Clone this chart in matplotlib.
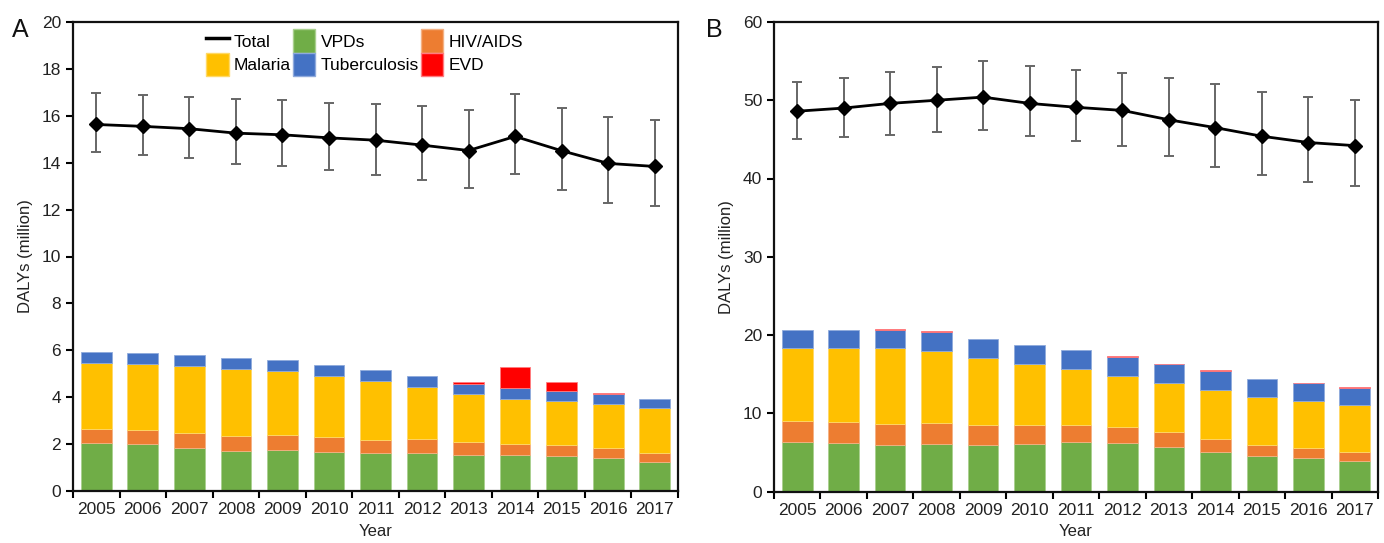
import matplotlib
matplotlib.use("Agg")
import matplotlib.pyplot as plt
import numpy as np
from matplotlib.lines import Line2D
from matplotlib.patches import Patch

plt.rcParams['font.family'] = ['Liberation Sans', 'DejaVu Sans']

years = ['2005', '2006', '2007', '2008', '2009', '2010', '2011',
         '2012', '2013', '2014', '2015', '2016', '2017']

# Panel A
a_vpd = [2.04, 1.99, 1.85, 1.69, 1.75, 1.65, 1.60, 1.64, 1.54, 1.54, 1.49, 1.40, 1.24]
a_hiv = [0.59, 0.63, 0.64, 0.64, 0.64, 0.64, 0.59, 0.57, 0.53, 0.47, 0.47, 0.42, 0.40]
a_mal = [2.81, 2.79, 2.85, 2.88, 2.72, 2.61, 2.50, 2.23, 2.07, 1.92, 1.88, 1.87, 1.88]
a_tb = [0.47, 0.48, 0.45, 0.45, 0.47, 0.46, 0.45, 0.48, 0.44, 0.47, 0.43, 0.44, 0.42]
a_evd = [0, 0, 0, 0, 0, 0, 0, 0, 0.05, 0.87, 0.37, 0.05, 0]
a_total = [15.63, 15.55, 15.45, 15.26, 15.19, 15.06, 14.96, 14.75, 14.52, 15.12, 14.51, 13.97, 13.84]
a_low = [14.47, 14.34, 14.20, 13.96, 13.87, 13.70, 13.49, 13.25, 12.94, 13.52, 12.85, 12.30, 12.14]
a_high = [16.98, 16.89, 16.81, 16.71, 16.67, 16.55, 16.52, 16.41, 16.24, 16.95, 16.35, 15.93, 15.80]

# Panel B
b_vpd = [6.30, 6.15, 5.98, 6.04, 5.89, 6.04, 6.28, 6.15, 5.68, 5.04, 4.53, 4.32, 3.93]
b_hiv = [2.66, 2.68, 2.68, 2.70, 2.64, 2.49, 2.25, 2.08, 1.87, 1.62, 1.45, 1.19, 1.11]
b_mal = [9.34, 9.47, 9.64, 9.26, 8.57, 7.77, 7.07, 6.57, 6.30, 6.26, 6.04, 6.08, 5.96]
b_tb = [2.34, 2.34, 2.34, 2.34, 2.35, 2.38, 2.48, 2.45, 2.45, 2.53, 2.38, 2.22, 2.26]
b_evd = [0, 0, 0.08, 0.13, 0, 0, 0, 0.10, 0.03, 0.05, 0, 0.03, 0.10]
b_total = [48.6, 49.0, 49.6, 50.0, 50.4, 49.6, 49.1, 48.7, 47.5, 46.5, 45.4, 44.6, 44.2]
b_low = [45.0, 45.3, 45.5, 45.9, 46.2, 45.4, 44.8, 44.2, 42.9, 41.5, 40.4, 39.5, 39.0]
b_high = [52.3, 52.9, 53.6, 54.2, 55.0, 54.4, 53.9, 53.5, 52.9, 52.1, 51.0, 50.4, 50.0]

labels = ['VPDs', 'HIV/AIDS', 'Malaria', 'Tuberculosis', 'EVD']
colors = ['#70AD47', '#ED7D31', '#FFC000', '#4472C4', '#FF0000']
edges = ['#A9D08E', '#F4B183', '#FFD966', '#8FAADC', '#FF7C80']

FS = 12.5

fig = plt.figure(figsize=(13.84, 5.43), dpi=100)
axA = fig.add_axes([73/1384, 1-491/543, (678-73)/1384, (491-22)/543])
axB = fig.add_axes([774/1384, 1-491.5/543, (1378-774)/1384, (491.5-22)/543])


def draw(ax, series, total, low, high, ymax, ystep):
    x = np.arange(len(years))
    bottom = np.zeros(len(years))
    for s, c, e in zip(series, colors, edges):
        v = np.array(s)
        m = v > 0
        ax.bar(x[m], v[m], width=0.66, bottom=bottom[m], color=c, edgecolor=e,
               linewidth=0.6, zorder=2)
        bottom += v
    t = np.array(total)
    yerr = [t - np.array(low), np.array(high) - t]
    ax.errorbar(x, t, yerr=yerr, fmt='none', ecolor='#666666', elinewidth=1.4,
                capsize=3.5, capthick=1.4, zorder=3)
    ax.plot(x, t, color='black', lw=2, marker='D', markersize=7, zorder=4)
    ax.set_xlim(-0.5, len(years) - 0.5)
    ax.set_ylim(0, ymax)
    ax.set_yticks(np.arange(0, ymax + 0.1, ystep))
    ax.set_xticks(x)
    ax.set_xticklabels(years)
    ax.set_xticks(np.arange(-0.5, len(years), 1), minor=True)
    ax.tick_params(axis='x', which='major', length=0, labelsize=FS, pad=8, labelcolor='#222222')
    ax.tick_params(axis='x', which='minor', length=5, width=1.5, direction='out')
    ax.tick_params(axis='y', length=5, width=1.5, direction='out', labelsize=FS,
                   labelcolor='#222222')
    for sp in ax.spines.values():
        sp.set_linewidth(1.6)
        sp.set_color('#111111')
    ax.set_ylabel('DALYs (million)', fontsize=FS - 0.5, color='#222222', labelpad=6)
    ax.set_xlabel('Year', fontsize=FS - 0.5, color='#222222')
    ax.xaxis.set_label_coords(0.5, -0.07)


draw(axA, [a_vpd, a_hiv, a_mal, a_tb, a_evd], a_total, a_low, a_high, 20, 2)
draw(axB, [b_vpd, b_hiv, b_mal, b_tb, b_evd], b_total, b_low, b_high, 60, 10)

handles = [Line2D([0], [0], color='black', lw=2.5),
           Patch(facecolor=colors[2], edgecolor=edges[2]),
           Patch(facecolor=colors[0], edgecolor=edges[0]),
           Patch(facecolor=colors[3], edgecolor=edges[3]),
           Patch(facecolor=colors[1], edgecolor=edges[1]),
           Patch(facecolor=colors[4], edgecolor=edges[4])]
hlabels = ['Total', 'Malaria', 'VPDs', 'Tuberculosis', 'HIV/AIDS', 'EVD']
axA.legend(handles, hlabels, ncol=3, loc='upper left', bbox_to_anchor=(0.2, 1.01),
           frameon=False, fontsize=FS, handlelength=1.3, handleheight=1.7,
           handletextpad=0.3, columnspacing=0.1, labelspacing=0.0, borderpad=0.2)

fig.text(12/1384, 1-37/543, 'A', fontsize=18, color='#111111', va='baseline')
fig.text(706/1384, 1-37/543, 'B', fontsize=18, color='#111111', va='baseline')

fig.savefig('out.png', dpi=100)
